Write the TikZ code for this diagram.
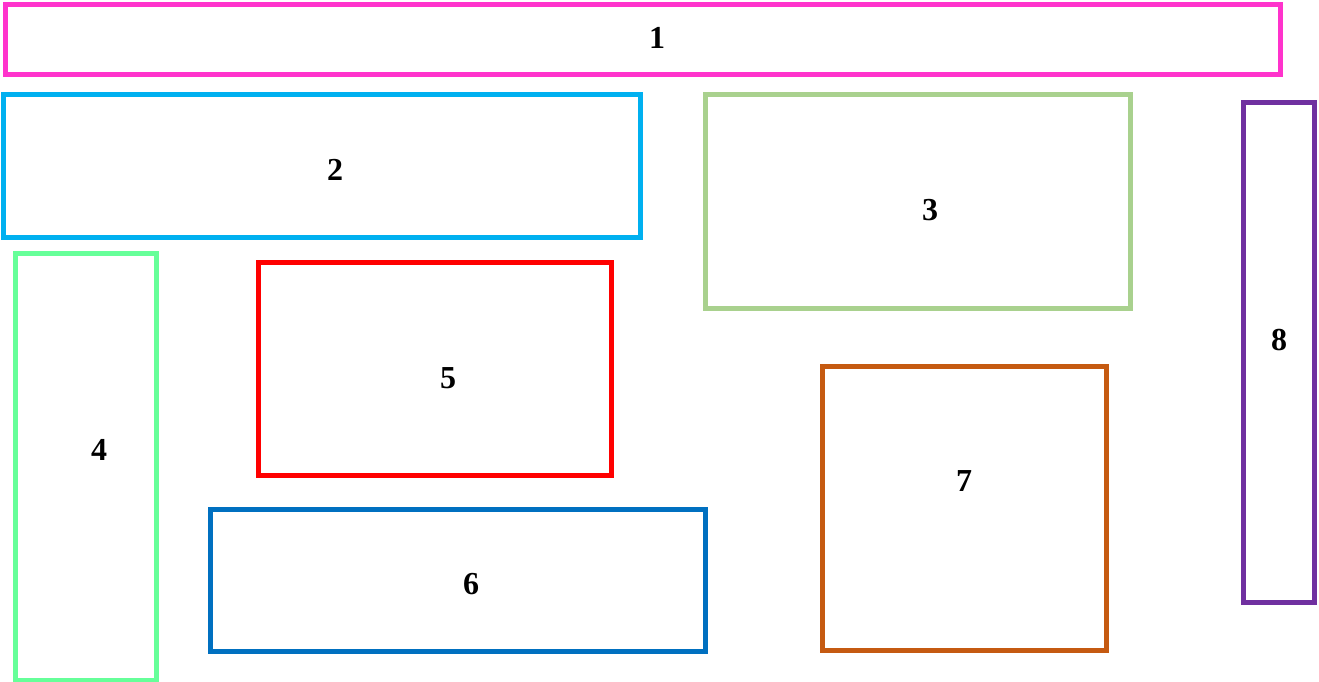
\documentclass[tikz,border=0pt]{standalone}
\usepackage{fontspec}
\setmainfont{Liberation Serif}
\begin{document}
\begin{tikzpicture}[x=1pt,y=-1pt,
  box/.style={line width=5pt},
  lbl/.style={font=\fontsize{32}{32}\selectfont\bfseries, inner sep=0pt}]
\useasboundingbox (0,0) rectangle (1319,682);
\clip (0,0) rectangle (1319,682);
\definecolor{c1}{HTML}{FF33CC}
\definecolor{c2}{HTML}{00B0F0}
\definecolor{c3}{HTML}{A9D18E}
\definecolor{c4}{HTML}{66FF99}
\definecolor{c5}{HTML}{FF0000}
\definecolor{c6}{HTML}{0070C0}
\definecolor{c7}{HTML}{C55A11}
\definecolor{c8}{HTML}{7030A0}
\draw[box,c1] (5.8,5) rectangle (1280.5,75);
\draw[box,c2] (3.5,95) rectangle (640,237);
\draw[box,c3] (705,95) rectangle (1130,308);
\draw[box,c4] (15.5,253.5) rectangle (156.5,680.8);
\draw[box,c5] (258,262) rectangle (611.5,475.5);
\draw[box,c6] (210,509) rectangle (705,651);
\draw[box,c7] (822.5,366) rectangle (1106,650.5);
\draw[box,c8] (1243.5,102.5) rectangle (1314.5,602.5);
\node[lbl] (l1) at (657,38) {1};
\node[lbl] (l2) at (335,170) {2};
\node[lbl] (l3) at (930,210) {3};
\node[lbl] (l4) at (99,450) {4};
\node[lbl] (l5) at (448,378) {5};
\node[lbl] (l6) at (471,584) {6};
\node[lbl] (l7) at (964,481) {7};
\node[lbl] (l8) at (1279,340) {8};
\end{tikzpicture}
\end{document}
